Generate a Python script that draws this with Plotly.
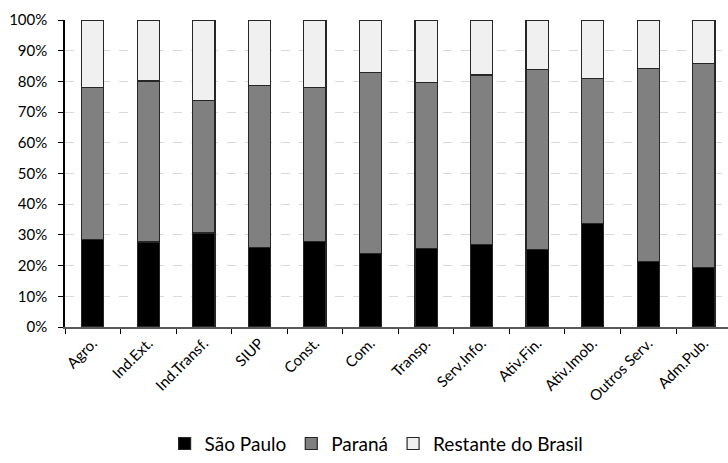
import plotly.graph_objects as go

# Sector shares (%) by region
setores = ["Agro.", "Ind.Ext.", "Ind.Transf.", "SIUP", "Const.", "Com.",
           "Transp.", "Serv.Info.", "Ativ.Fin.", "Ativ.Imob.", "Outros Serv.", "Adm.Pub."]
sao_paulo = [28.6, 27.7, 30.6, 26.0, 27.8, 24.0, 25.6, 26.9, 25.2, 33.7, 21.4, 19.3]
parana = [49.4, 52.4, 43.1, 52.7, 50.1, 59.0, 54.1, 55.2, 58.7, 47.3, 62.8, 66.6]
restante = [22.0, 19.9, 26.3, 21.3, 22.1, 17.0, 20.3, 17.9, 16.1, 19.0, 15.8, 14.1]
y_ticks = [0, 10, 20, 30, 40, 50, 60, 70, 80, 90, 100]

FONT = "Lato, Carlito, Arial, sans-serif"

series = [
    ("São Paulo", sao_paulo, "#000000"),
    ("Paraná", parana, "#808080"),
    ("Restante do Brasil", restante, "#f0f0f0"),
]

fig = go.Figure()
for nome, vals, cor in series:
    fig.add_trace(go.Bar(
        x=setores, y=vals, name=nome,
        marker=dict(color=cor, line=dict(color="#262626", width=1.2)),
    ))

fig.update_layout(
    barmode="stack",
    bargap=0.6,
    width=728, height=463,
    margin=dict(l=65, r=0, t=20, b=128),
    paper_bgcolor="white",
    plot_bgcolor="white",
    font=dict(family=FONT, color="#000000"),
    legend=dict(
        orientation="h", x=0.47, xanchor="center", y=-0.38, yanchor="middle",
        font=dict(size=19, family=FONT), traceorder="normal",
        itemwidth=30,
    ),
    xaxis=dict(
        range=[-0.5, 11.435],
        tickangle=-45,
        tickfont=dict(size=15, family=FONT),
        showline=True, linecolor="#595959", linewidth=1.5,
        ticks="outside", tickson="boundaries", ticklen=5, tickcolor="#000000",
        showgrid=False,
    ),
    yaxis=dict(
        range=[0, 100],
        tickvals=y_ticks,
        ticktext=[f"{v}%" for v in y_ticks],
        tickfont=dict(size=15, family=FONT),
        ticklabelstandoff=8,
        showline=True, linecolor="#000000", linewidth=1.5,
        ticks="outside", ticklen=5, tickcolor="#000000",
        showgrid=True, gridcolor="#d9d9d9", griddash="dash", gridwidth=1,
        zeroline=False,
    ),
)

fig.write_html("out.html")
